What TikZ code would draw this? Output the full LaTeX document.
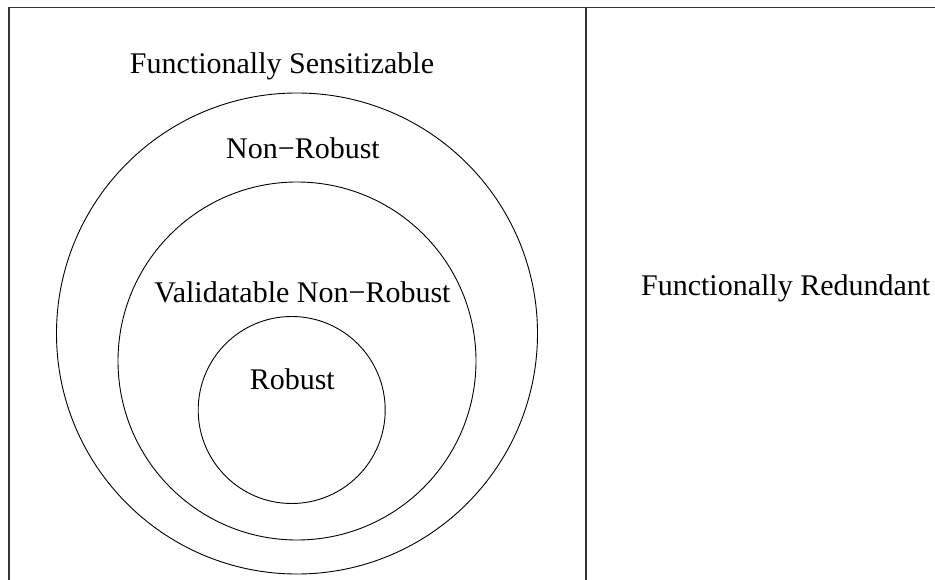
\documentclass[tikz,border=0pt]{standalone}
\usepackage{fontspec}
\setmainfont{Liberation Serif}
\begin{document}
\begin{tikzpicture}[x=1pt,y=-1pt,
  frame/.style={draw=black!80,line width=1.3pt},
  ring/.style={draw=black,line width=0.9pt,circle,inner sep=0pt,outer sep=0pt},
  lbl/.style={anchor=base,inner sep=0pt,font=\fontsize{30}{36}\selectfont}]
\useasboundingbox (0,0) rectangle (935,580);
% outer frame, open at the bottom and on the right
\coordinate (bl) at (9,580);
\coordinate (tl) at (9,7.5);
\coordinate (tr) at (935,7.5);
\coordinate (dtop) at (586,7.5);
\coordinate (dbot) at (586,580);
\draw[frame] (bl) -- (tl) -- (tr);
\draw[frame] (dtop) -- (dbot);
% nested sets
\node[ring,minimum size=481pt] (sens) at (297,333.5) {};
\node[ring,minimum size=358pt] (nonrob) at (297,361) {};
\node[ring,minimum size=187pt] (rob) at (291.7,410) {};
% labels
\node[lbl] (tsens) at (282,73.5) {Functionally Sensitizable};
\node[lbl] (tnon) at (303,158.5) {Non−Robust};
\node[lbl] (tval) at (302.5,302) {Validatable Non−Robust};
\node[lbl] (trob) at (292.3,389.5) {Robust};
\node[lbl] (tred) at (785.7,295) {Functionally Redundant};
\end{tikzpicture}
\end{document}
